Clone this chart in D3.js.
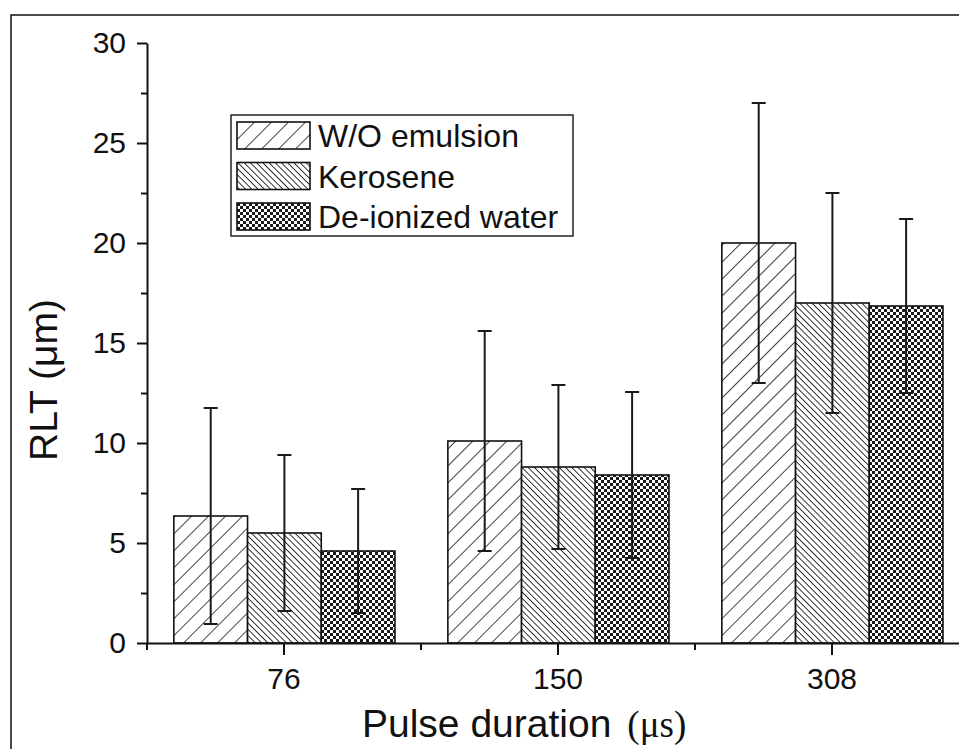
<!DOCTYPE html>
<html>
<head>
<meta charset="utf-8">
<script src="https://cdn.jsdelivr.net/npm/d3@7/dist/d3.min.js"></script>
<style>
  html, body { margin: 0; padding: 0; background: #fff; }
  svg { display: block; font-family: "Liberation Sans", Arial, sans-serif; }
</style>
</head>
<body>
<svg id="chart" width="959" height="749"></svg>
<script>
// ---- data ----
const categories = ["76", "150", "308"];
const seriesNames = ["W/O emulsion", "Kerosene", "De-ionized water"];
const woValues = [6.35, 10.1, 20.0];
const woErrors = [5.4, 5.5, 7.0];
const keroValues = [5.5, 8.8, 17.0];
const keroErrors = [3.9, 4.1, 5.5];
const diValues = [4.6, 8.4, 16.85];
const diErrors = [3.1, 4.15, 4.35];
const yTicks = [0, 5, 10, 15, 20, 25, 30];
const yMinorTicks = [2.5, 7.5, 12.5, 17.5, 22.5, 27.5];
const xTitle = "Pulse duration";
const xUnit = "(\u03bcs)";
const yTitle = "RLT (\u03bcm)";

const seriesValues = [woValues, keroValues, diValues];
const seriesErrors = [woErrors, keroErrors, diErrors];
const patternIds = ["pat-wo", "pat-kero", "pat-di"];

const svg = d3.select("#chart");

// ---- patterns ----
const defs = svg.append("defs");
const p1 = defs.append("pattern").attr("id", "pat-wo")
  .attr("patternUnits", "userSpaceOnUse").attr("width", 12).attr("height", 12)
  .attr("patternTransform", "rotate(45)");
p1.append("rect").attr("width", 12).attr("height", 12).attr("fill", "#fff");
p1.append("line").attr("x1", 0).attr("y1", 0).attr("x2", 0).attr("y2", 12)
  .attr("stroke", "#111").attr("stroke-width", 1.6);

const p2 = defs.append("pattern").attr("id", "pat-kero")
  .attr("patternUnits", "userSpaceOnUse").attr("width", 4.4).attr("height", 4.4)
  .attr("patternTransform", "rotate(-45)");
p2.append("rect").attr("width", 4.4).attr("height", 4.4).attr("fill", "#fff");
p2.append("line").attr("x1", 0).attr("y1", 0).attr("x2", 0).attr("y2", 4.4)
  .attr("stroke", "#111").attr("stroke-width", 1.7);

const p3 = defs.append("pattern").attr("id", "pat-di")
  .attr("patternUnits", "userSpaceOnUse").attr("width", 6).attr("height", 6);
p3.append("rect").attr("width", 6).attr("height", 6).attr("fill", "#fff");
p3.append("rect").attr("x", 0).attr("y", 0).attr("width", 3).attr("height", 3).attr("fill", "#1a1a1a");
p3.append("rect").attr("x", 3).attr("y", 3).attr("width", 3).attr("height", 3).attr("fill", "#1a1a1a");

// ---- frame ----
svg.append("rect").attr("x", 11).attr("y", 15).attr("width", 1000).attr("height", 800)
  .attr("fill", "none").attr("stroke", "#111").attr("stroke-width", 1.5);

// ---- scales ----
const x0 = 147, xBand = 274;
const x = d3.scaleBand().domain(categories).range([x0, x0 + xBand * categories.length]).padding(0);
const xs = d3.scaleBand().domain(seriesNames)
  .range([x.bandwidth() * 0.098, x.bandwidth() * 0.905]).padding(0);
const y = d3.scaleLinear().domain([0, 30]).range([643, 43]);

// ---- bars ----
const groups = svg.append("g").selectAll("g").data(categories).join("g")
  .attr("transform", d => `translate(${x(d)},0)`);

seriesNames.forEach((s, si) => {
  groups.append("rect")
    .attr("x", xs(s))
    .attr("width", xs.bandwidth())
    .attr("y", (d, i) => y(seriesValues[si][i]))
    .attr("height", (d, i) => y(0) - y(seriesValues[si][i]))
    .attr("fill", `url(#${patternIds[si]})`)
    .attr("stroke", "#111").attr("stroke-width", 1.6);
});

// ---- error bars ----
const capW = 14;
seriesNames.forEach((s, si) => {
  const cx = xs(s) + xs.bandwidth() / 2;
  groups.append("line")
    .attr("x1", cx).attr("x2", cx)
    .attr("y1", (d, i) => y(seriesValues[si][i] + seriesErrors[si][i]))
    .attr("y2", (d, i) => y(seriesValues[si][i] - seriesErrors[si][i]))
    .attr("stroke", "#1a1a1a").attr("stroke-width", 2);
  [1, -1].forEach(sg => {
    groups.append("line")
      .attr("x1", cx - capW / 2).attr("x2", cx + capW / 2)
      .attr("y1", (d, i) => y(seriesValues[si][i] + sg * seriesErrors[si][i]))
      .attr("y2", (d, i) => y(seriesValues[si][i] + sg * seriesErrors[si][i]))
      .attr("stroke", "#1a1a1a").attr("stroke-width", 2);
  });
});

// ---- axes ----
const yAxis = svg.append("g").attr("transform", `translate(${x0},0)`)
  .call(d3.axisLeft(y).tickValues(yTicks).tickSize(10).tickSizeOuter(0).tickPadding(11));
svg.append("g").attr("transform", `translate(${x0},0)`)
  .call(d3.axisLeft(y).tickValues(yMinorTicks).tickSize(6).tickFormat(""))
  .call(g => g.select(".domain").remove());

const xAxis = svg.append("g").attr("transform", `translate(0,${y(0)})`)
  .call(d3.axisBottom(x).tickSize(12).tickSizeOuter(0).tickPadding(13));
const xMinor = categories.map(c => x(c)).concat([x(categories[categories.length - 1]) + x.bandwidth()]);
svg.append("g").selectAll("line").data(xMinor).join("line")
  .attr("x1", d => d).attr("x2", d => d)
  .attr("y1", y(0)).attr("y2", y(0) + 7)
  .attr("stroke", "#111").attr("stroke-width", 2);

[yAxis, xAxis].forEach(g => {
  g.selectAll("path.domain").attr("stroke", "#111").attr("stroke-width", 2);
  g.selectAll(".tick text").attr("fill", "#111")
    .style("font-family", '"Liberation Sans", Arial, sans-serif').style("font-size", "30px");
});
svg.selectAll("g .tick line").attr("stroke", "#111").attr("stroke-width", 2);

// ---- axis titles ----
svg.append("text")
  .attr("transform", "translate(57,380) rotate(-90)")
  .attr("text-anchor", "middle")
  .attr("fill", "#111")
  .style("font-size", "39px")
  .text(yTitle);

const xt = svg.append("text").attr("x", 362).attr("y", 737)
  .attr("fill", "#111").style("font-size", "39px");
xt.append("tspan").text(xTitle);
xt.append("tspan").attr("dx", 16)
  .style("font-family", '"Liberation Serif", "Times New Roman", serif')
  .style("font-size", "37px").text(xUnit);

// ---- legend ----
const lg = svg.append("g");
lg.append("rect").attr("x", 231).attr("y", 115).attr("width", 342).attr("height", 121)
  .attr("fill", "#fff").attr("stroke", "#222").attr("stroke-width", 1.5);
const rowY = d3.scalePoint().domain(seriesNames).range([122, 203]);
const rows = lg.selectAll("g.row").data(seriesNames).join("g").attr("class", "row")
  .attr("transform", d => `translate(237,${rowY(d)})`);
rows.append("rect").attr("width", 73).attr("height", 27)
  .attr("fill", (d, i) => `url(#${patternIds[i]})`)
  .attr("stroke", "#111").attr("stroke-width", 1.6);
rows.append("text").attr("x", 81).attr("y", 25)
  .attr("fill", "#111").style("font-size", "32px")
  .text(d => d);
</script>
</body>
</html>
